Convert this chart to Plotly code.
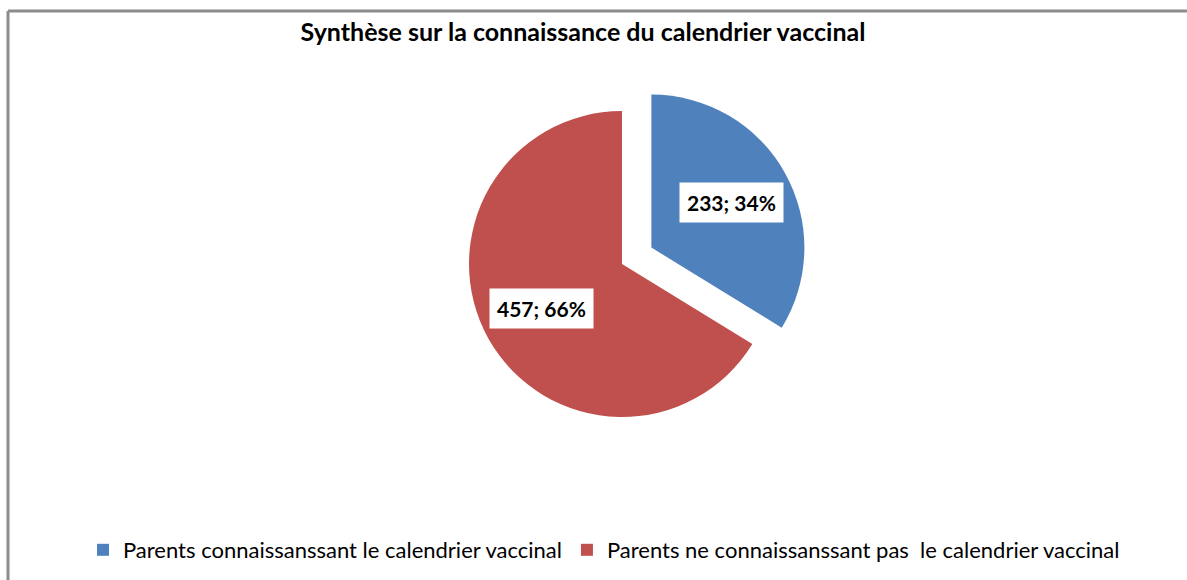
import math
import plotly.graph_objects as go

# data
labels = ['Parents connaissanssant le calendrier vaccinal',
          'Parents ne connaissanssant pas  le calendrier vaccinal']
values = [233, 457]
colors = ['#4F81BD', '#C0504D']
pulls = [0.22, 0]

W, H = 1187, 580
font_family = 'Lato, Roboto, sans-serif'

# pie box (paper coords, margins are zero)
r_px = 153
cx_px, cy_px = 622, 264
half = r_px * (1 + max(pulls))
dom_x = [(cx_px - half) / W, (cx_px + half) / W]
dom_y = [1 - (cy_px + half) / H, 1 - (cy_px - half) / H]

fig = go.Figure()
fig.add_trace(go.Pie(labels=labels, values=values,
                     marker=dict(colors=colors),
                     pull=pulls,
                     sort=False,
                     direction='clockwise',
                     rotation=0,
                     textinfo='none',
                     hoverinfo='label+value+percent',
                     domain=dict(x=dom_x, y=dom_y)))

# value labels with white boxes, placed from the slice mid-angles
box_w = (dom_x[1] - dom_x[0]) * W
box_h = (dom_y[1] - dom_y[0]) * H
r = min(box_w, box_h) / (2 + 2 * max(pulls))
cx = (dom_x[0] + dom_x[1]) / 2 * W
cy = (dom_y[0] + dom_y[1]) / 2 * H
total = sum(values)
start = 0
for v, p in zip(values, pulls):
    mid = (start + v / 2) / total * 2 * math.pi
    start += v
    d = 0.6 * r + p * r
    x = cx + d * math.sin(mid)
    y = cy + d * math.cos(mid)
    fig.add_annotation(x=x / W, y=y / H, xref='paper', yref='paper',
                       text='<b>%d; %d%%</b>' % (v, round(100 * v / total)),
                       showarrow=False, bgcolor='white', borderpad=7,
                       font=dict(size=21, color='black', family=font_family))

# frame lines (top and left, as in the screenshot)
fig.add_shape(type='line', xref='paper', yref='paper',
              x0=8 / W, x1=1, y0=1 - 11 / H, y1=1 - 11 / H,
              line=dict(color='#8c8c8c', width=3))
fig.add_shape(type='line', xref='paper', yref='paper',
              x0=8 / W, x1=8 / W, y0=0, y1=1 - 11 / H,
              line=dict(color='#8c8c8c', width=3))

fig.update_layout(
    width=W, height=H,
    margin=dict(l=0, r=0, t=0, b=0, autoexpand=False),
    paper_bgcolor='white',
    plot_bgcolor='white',
    title=dict(text='<b>Synthèse sur la connaissance du calendrier vaccinal</b>',
               x=583 / W, xanchor='center', y=1 - 32 / H, yanchor='middle',
               font=dict(size=25, color='black', family=font_family)),
    legend=dict(orientation='h', x=604 / W, xanchor='center',
                y=1 - 550 / H, yanchor='middle',
                font=dict(size=22, color='black', family=font_family),
                itemwidth=30),
    font=dict(family=font_family),
)

fig.write_html("out.html", config={'displayModeBar': False},
               post_script="document.body.style.margin='0';")
